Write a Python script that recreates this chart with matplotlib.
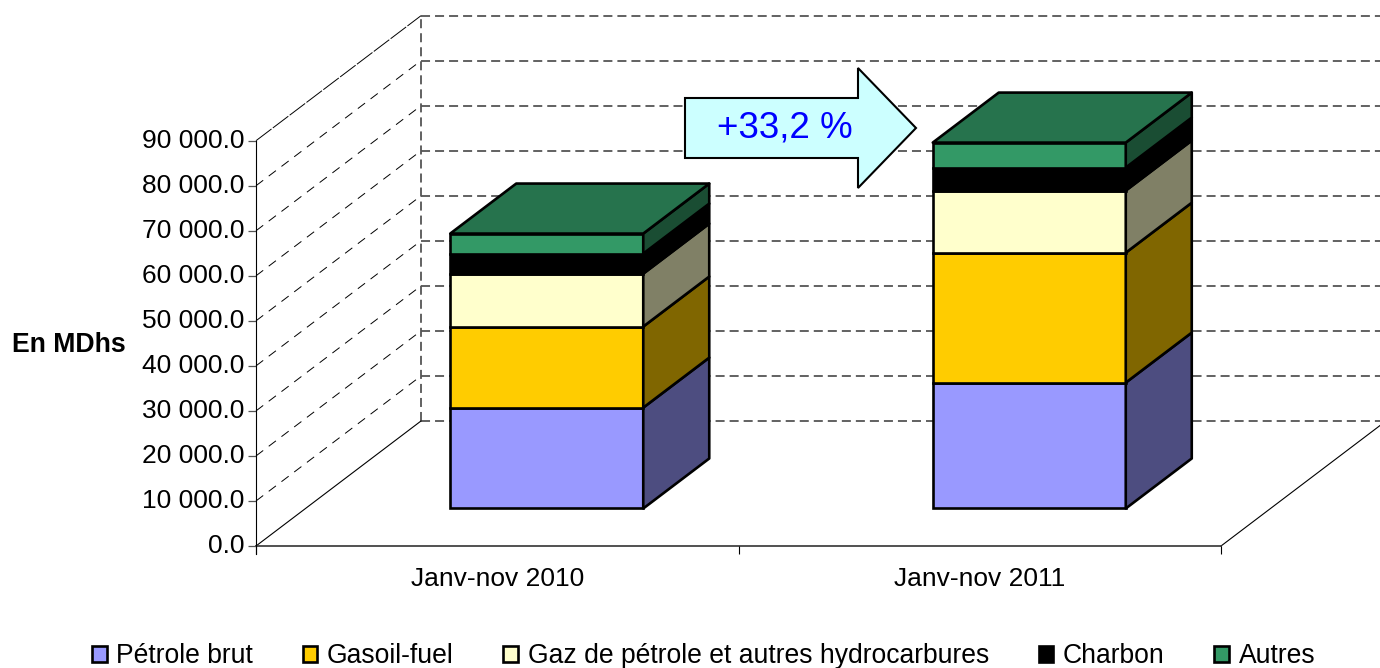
import matplotlib
matplotlib.use('Agg')
import matplotlib.pyplot as plt
from matplotlib.patches import Patch, Polygon

plt.rcParams['font.family'] = ['Liberation Sans', 'DejaVu Sans']
plt.rcParams['lines.scale_dashes'] = False

# Data (MDhs)
periods = ['Janv-nov 2010', 'Janv-nov 2011']
series_names = ['Pétrole brut', 'Gasoil-fuel', 'Gaz de pétrole et autres hydrocarbures', 'Charbon', 'Autres']
petrole = [22400, 27950]
gasoil = [18000, 28850]
gaz = [11750, 13800]
charbon = [4450, 5100]
autres = [4450, 5550]
y_ticks = [0, 10000, 20000, 30000, 40000, 50000, 60000, 70000, 80000, 90000]
y_labels = ['0.0', '10 000.0', '20 000.0', '30 000.0', '40 000.0', '50 000.0',
            '60 000.0', '70 000.0', '80 000.0', '90 000.0']

# Colours: front, side, top
front_colors = ['#9999FF', '#FFCC00', '#FFFFCC', '#000000', '#339966']
side_colors = ['#4D4D80', '#806600', '#808066', '#000000', '#1A4D33']
top_color = '#26734D'

W, H = 1380, 668
fig = plt.figure(figsize=(W / 100, H / 100), dpi=100)
ax = fig.add_axes([256 / W, (H - 546) / H, 965 / W, 405.3 / H])
ax.set_xlim(0, 2)
ax.set_ylim(0, 90000)

# depth of the fake 3D box, in data units
depth_x = 165 / 482.5
depth_y = 125 / 4.503 * 1000
bar_w = 0.4
edge_w = 1.9


def shift(x, v, d):
    return x + d * depth_x, v + d * depth_y


def line(xs, ys, **kw):
    ax.plot(xs, ys, clip_on=False, **kw)


# walls and grid
grid_style = dict(color='#555555', lw=1.3, linestyle=(0, (6.5, 3.6)), zorder=1)
side_style = dict(color='black', lw=0.7, linestyle=(0, (6.5, 5)), zorder=1)
for t in y_ticks:
    x0, y0 = shift(0, t, 1)
    x1, y1 = shift(2, t, 1)
    line([x0, x1], [y0, y1], **grid_style)
    if t == 90000:
        line([0, x0], [t, y0], color='black', lw=0.7, linestyle=(0, (14, 1.2)), zorder=1)
    elif t != 0:
        line([0, x0], [t, y0], **side_style)
x0, y0 = shift(0, 0, 1)
x1, y1 = shift(0, 90000, 1)
line([x0, x1], [y0, y1], **grid_style)
line([0, x0], [0, y0], color='black', lw=0.8, zorder=1)
x2, y2 = shift(2, 0, 1)
line([2, x2], [0, y2], color='black', lw=0.8, zorder=1)
line([0, 2], [0, 0], color='#333333', lw=1.2, zorder=1)

# stacked boxes
stacks = [petrole, gasoil, gaz, charbon, autres]
for i in range(len(periods)):
    left = i + 0.5 - bar_w / 2
    right = i + 0.5 + bar_w / 2
    base = 0
    for s, vals in enumerate(stacks):
        low = base
        high = base + vals[i]
        xa, ya = shift(left, low, 0.3)
        xb, yb = shift(right, low, 0.3)
        xc, yc = shift(right, high, 0.3)
        xd, yd = shift(right, high, 0.7)
        xe, ye = shift(right, low, 0.7)
        ax.bar(xa, vals[i], width=bar_w, bottom=ya, align='edge', color=front_colors[s],
               edgecolor='black', linewidth=edge_w, clip_on=False, zorder=3)
        ax.add_patch(Polygon([(xb, yb), (xc, yc), (xd, yd), (xe, ye)], closed=True,
                             facecolor=side_colors[s], edgecolor='black', linewidth=edge_w,
                             joinstyle='round', clip_on=False, zorder=3))
        base = high
    xa, ya = shift(left, base, 0.3)
    xb, yb = shift(right, base, 0.3)
    xc, yc = shift(right, base, 0.7)
    xd, yd = shift(left, base, 0.7)
    ax.add_patch(Polygon([(xa, ya), (xb, yb), (xc, yc), (xd, yd)], closed=True,
                         facecolor=top_color, edgecolor='black', linewidth=edge_w,
                         joinstyle='round', clip_on=False, zorder=3))

# axes
for name in ['top', 'right', 'bottom']:
    ax.spines[name].set_visible(False)
ax.patch.set_visible(False)
ax.spines['left'].set_linewidth(0.8)
ax.spines['left'].set_bounds(0, 90000)
line([0, 0], [0, -1800], color='black', lw=0.8, zorder=2)
ax.set_yticks(y_ticks)
ax.set_yticklabels(y_labels, fontsize=19, va='center')
ax.tick_params(axis='y', length=5.8, width=0.9, color='#555555', pad=2.5)
ax.set_xticks([0, 1, 2])
ax.set_xticklabels([])
ax.set_xticks([0.5, 1.5], minor=True)
ax.set_xticklabels(periods, minor=True, fontsize=19)
ax.tick_params(axis='x', which='major', length=5.8, width=0.8, color='black')
ax.tick_params(axis='x', which='minor', length=0, pad=15)

# overlay in pixels for the arrow and the unit label
over = fig.add_axes([0, 0, 1, 1])
over.set_xlim(0, W)
over.set_ylim(H, 0)
over.axis('off')
over.patch.set_visible(False)
arrow = [(685, 98), (858, 98), (858, 68), (916, 128), (858, 188), (858, 158), (685, 158)]
over.add_patch(Polygon(arrow, closed=True, facecolor='#CCFFFF', edgecolor='black', linewidth=1.5))
over.text(785, 128.5, '+33,2 %', color='#0000FF', fontsize=26.5, ha='center', va='center')
over.text(12, 345, 'En MDhs', fontsize=19.2, fontweight='bold', ha='left', va='center')

handles = [Patch(facecolor=c, edgecolor='black', linewidth=1.9) for c in front_colors]
fig.legend(handles, series_names, ncol=5, loc='lower center', bbox_to_anchor=(703.5 / W, -1 / H),
           frameon=False, fontsize=19.1, handlelength=0.56, handleheight=0.56, handletextpad=0.36,
           columnspacing=1.87, borderpad=0, borderaxespad=0)

fig.savefig('out.png', dpi=100)
